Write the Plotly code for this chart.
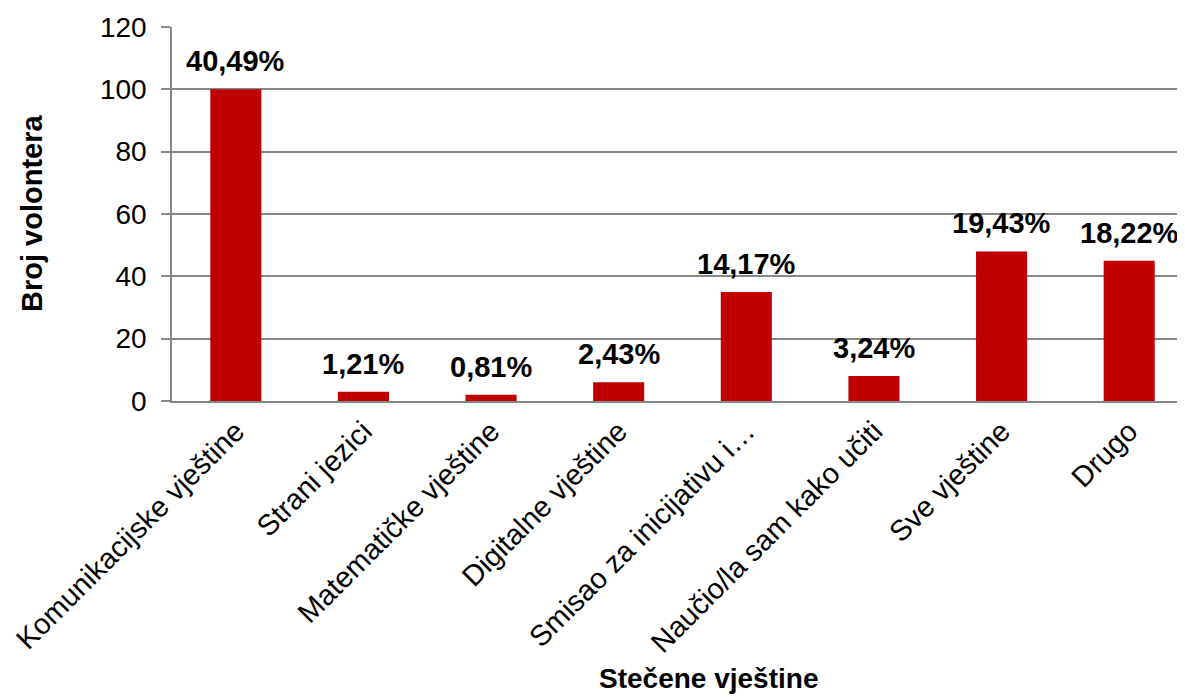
import plotly.graph_objects as go

categories = ["Komunikacijske vještine", "Strani jezici", "Matematičke vještine",
              "Digitalne vještine", "Smisao za inicijativu i…", "Naučio/la sam kako učiti",
              "Sve vještine", "Drugo"]
counts = [100, 3, 2, 6, 35, 8, 48, 45]
pct_labels = ["40,49%", "1,21%", "0,81%", "2,43%", "14,17%", "3,24%", "19,43%", "18,22%"]
y_ticks = [0, 20, 40, 60, 80, 100, 120]

FONT = "Liberation Sans, Arial, sans-serif"
GRID = "#878787"

fig = go.Figure()
fig.add_trace(go.Bar(
    x=list(range(len(categories))), y=counts,
    marker=dict(color="#C00000", line=dict(width=0)),
    width=0.40,
))

for i, (v, t) in enumerate(zip(counts, pct_labels)):
    fig.add_annotation(x=i, y=v, text=f"<b>{t}</b>", showarrow=False,
                       yanchor="bottom", yshift=10,
                       font=dict(family=FONT, size=29, color="#000000"))

fig.add_annotation(xref="paper", yref="paper", x=0, y=0.5, xshift=-140,
                   text="<b>Broj volontera</b>", textangle=-90, showarrow=False,
                   xanchor="center", yanchor="middle",
                   font=dict(family=FONT, size=29, color="#000000"))
fig.add_annotation(xref="paper", yref="paper", x=0.525, y=0, yshift=-277,
                   text="<b>Stečene vještine</b>", showarrow=False,
                   xanchor="center", yanchor="middle",
                   font=dict(family=FONT, size=28, color="#000000"))

fig.update_layout(
    width=1185, height=697,
    margin=dict(l=164, r=0, t=19, b=304, autoexpand=False),
    paper_bgcolor="white", plot_bgcolor="white",
    showlegend=False,
    font=dict(family=FONT, size=28, color="#000000"),
    xaxis=dict(
        tickmode="array", tickvals=list(range(len(categories))), ticktext=categories,
        range=[-0.5, 7.5], tickangle=-45, showgrid=False,
        showline=True, linecolor=GRID, linewidth=1.5,
        ticks="", automargin=False,
        tickfont=dict(family=FONT, size=29),
    ),
    yaxis=dict(
        range=[0, 120], tickvals=y_ticks, showgrid=True, gridcolor=GRID, gridwidth=1.5,
        showline=True, linecolor=GRID, linewidth=1.5,
        ticks="outside", ticklen=9, tickcolor=GRID, tickwidth=1.5,
        ticklabelstandoff=9, automargin=False,
        tickfont=dict(family=FONT, size=28),
        zeroline=False,
    ),
)

fig.write_html("out.html")
